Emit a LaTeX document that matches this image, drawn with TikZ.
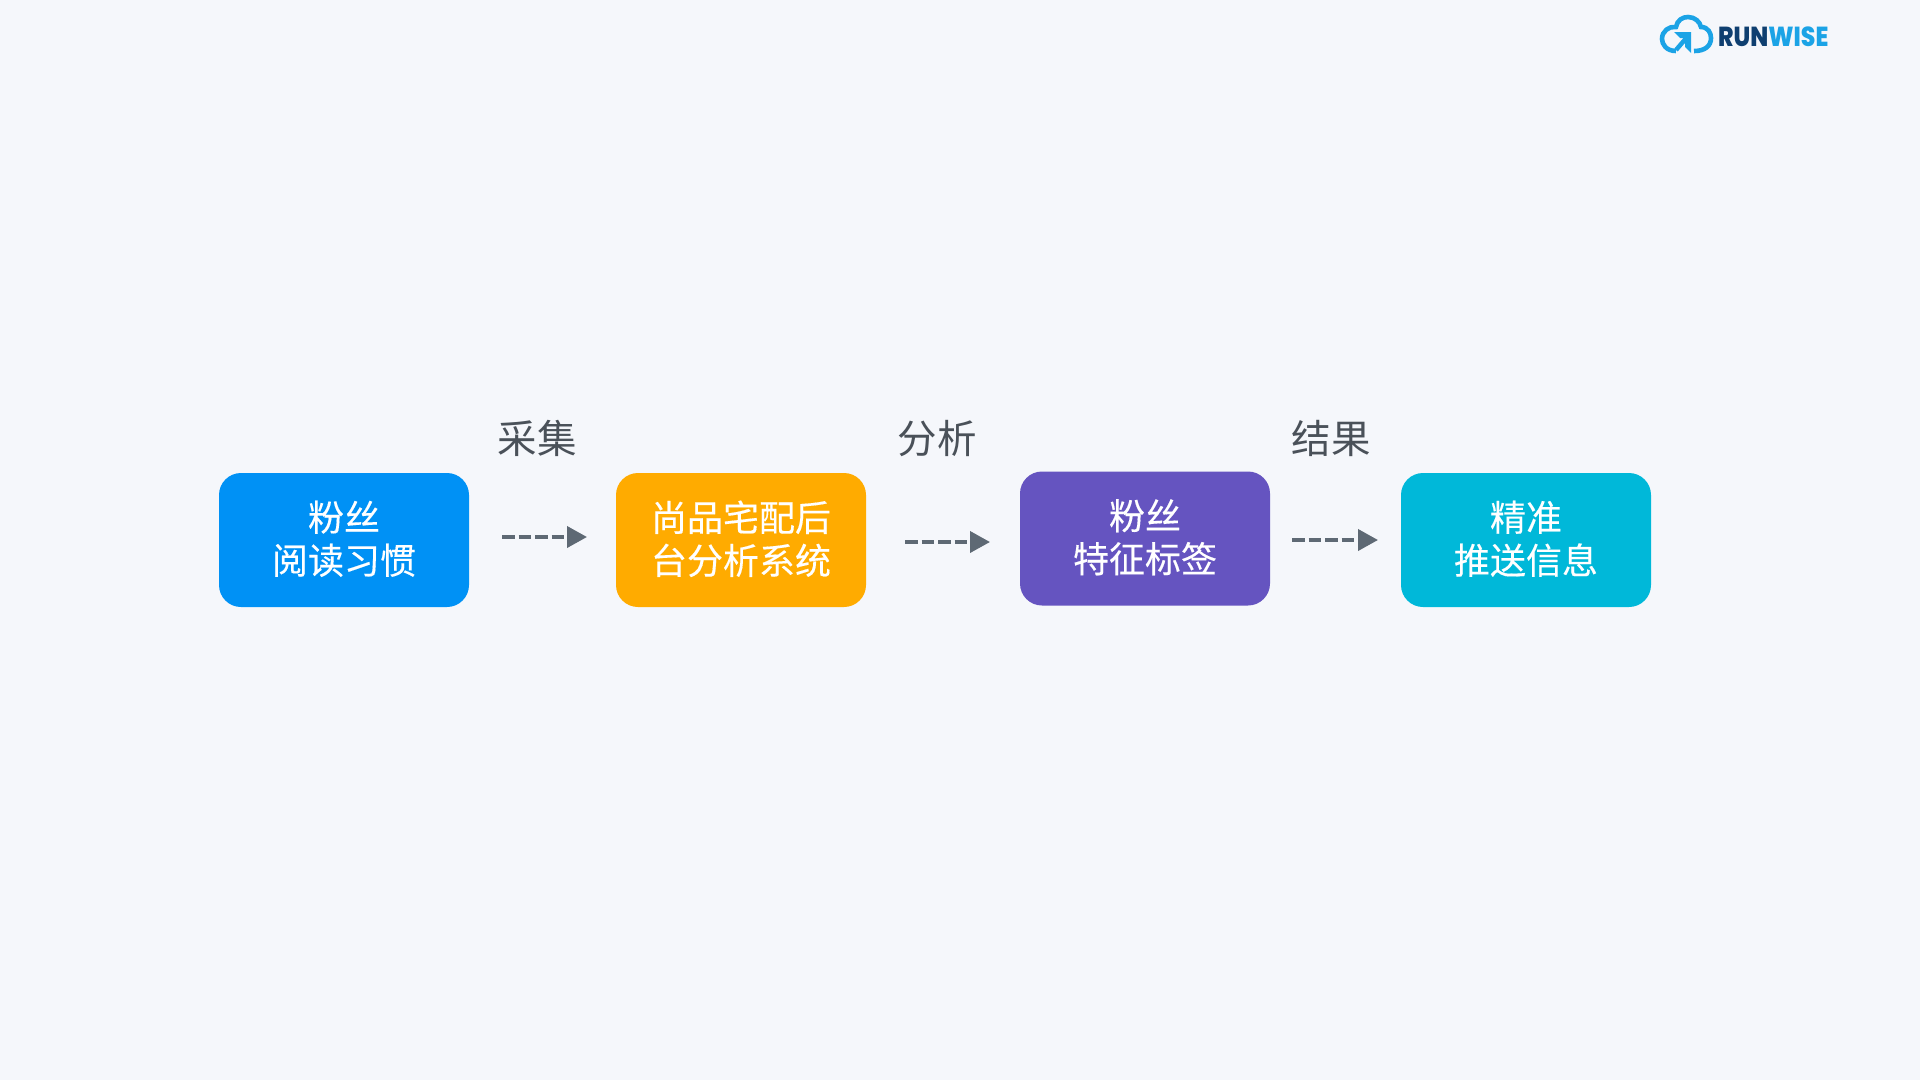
\documentclass[tikz,border=0pt]{standalone}
\usepackage{fontspec}
\newfontfamily\cjk{Noto Sans CJK SC}
\newfontfamily\cjkbox{Noto Sans CJK SC}[FakeBold=0.3]
\newfontfamily\logofont{Poppins}[BoldFont={Poppins ExtraBold}]
\usetikzlibrary{arrows.meta}
\definecolor{bgc}{HTML}{F5F7FB}
\definecolor{bluec}{HTML}{0091F5}
\definecolor{orangec}{HTML}{FFAB00}
\definecolor{purplec}{HTML}{6554C0}
\definecolor{tealc}{HTML}{00B8D9}
\definecolor{labelc}{HTML}{4A5159}
\definecolor{arrowc}{HTML}{5E6974}
\definecolor{logoa}{HTML}{1BA3E6}
\definecolor{logod}{HTML}{0F3F70}
\tikzset{
  flowbox/.style={rounded corners=22pt,minimum width=250pt,minimum height=134pt,inner sep=0pt,
    align=center,text=white,text depth=5.4pt,font=\cjkbox\fontsize{36}{43}\selectfont},
  steplabel/.style={text=labelc,inner sep=0pt,font=\cjk\fontsize{39.5}{44}\selectfont},
  flowarrow/.style={draw=arrowc,line width=3.8pt,dash pattern=on 12.5pt off 4pt,
    -{Triangle[length=20pt,width=21pt,fill=arrowc]}},
  cloudline/.style={draw=logoa,line width=4.6pt},
}
\begin{document}
\begin{tikzpicture}[x=1pt,y=-1pt]
\useasboundingbox (0,0) rectangle (1920,1080);
\fill[bgc] (0,0) rectangle (1920,1080);
\node[flowbox,fill=bluec] (b1) at (344,540) {粉丝\\阅读习惯};
\node[flowbox,fill=orangec] (b2) at (741,540) {尚品宅配后\\台分析系统};
\node[flowbox,fill=purplec] (b3) at (1145,538.5) {粉丝\\特征标签};
\node[flowbox,fill=tealc] (b4) at (1526,540) {精准\\推送信息};
\node[steplabel] (l1) at (537,438.5) {采集};
\node[steplabel] (l2) at (937,438.5) {分析};
\node[steplabel] (l3) at (1331,438.5) {结果};
\coordinate (a1s) at (502,537); \coordinate (a1e) at (587,537);
\coordinate (a2s) at (905,542); \coordinate (a2e) at (990,542);
\coordinate (a3s) at (1292,540); \coordinate (a3e) at (1378,540);
\draw[flowarrow] (a1s) -- (a1e);
\draw[flowarrow] (a2s) -- (a2e);
\draw[flowarrow] (a3s) -- (a3e);
% logo
\draw[cloudline,line cap=butt] (1676,51) .. controls (1666,51) and (1662,44) .. (1662,39)
  .. controls (1662,31) and (1669,26) .. (1676,27)
  .. controls (1677,20) and (1683,17) .. (1688,17)
  .. controls (1695,17) and (1700,22) .. (1701,27)
  .. controls (1708,27) and (1711,33) .. (1711,38)
  .. controls (1711,46) and (1705,51) .. (1694,51);
\draw[draw=logoa,line width=4.5pt] (1676,50) -- (1688,36);
\fill[logoa] (1674,32) -- (1691,32) -- (1691,53) -- (1685,47) -- (1685,38) -- (1680,38) -- cycle;
\node[anchor=west,inner sep=0pt,xscale=0.94,yscale=1.1,font=\logofont\bfseries\fontsize{25}{25}\selectfont] (logo) at (1718,36.5) {\textcolor{logod}{RUN}\textcolor{logoa}{WISE}};
\end{tikzpicture}
\end{document}
